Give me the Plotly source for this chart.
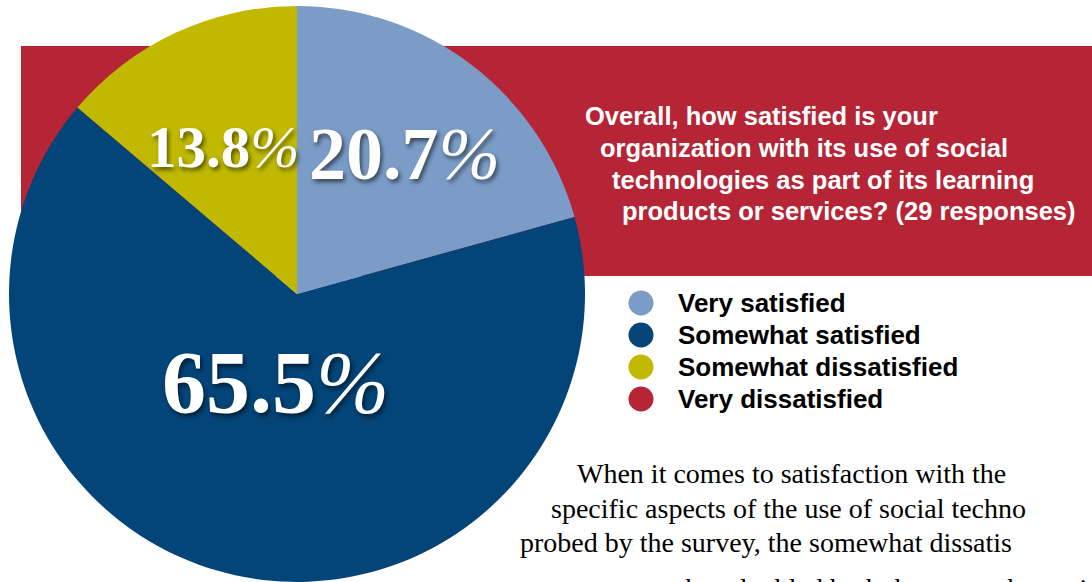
import plotly.graph_objects as go

# ---- data ----
labels = ["Very satisfied", "Somewhat satisfied", "Somewhat dissatisfied", "Very dissatisfied"]
values = [20.7, 65.5, 13.8, 0.0]
colors = ["#7a9cc6", "#034578", "#c0b900", "#b52535"]

title_lines = [
    "Overall, how satisfied is your",
    "organization with its use of social",
    "technologies as part of its learning",
    "products or services? (29 responses)",
]
body_lines = [
    "When it comes to satisfaction with the",
    "specific aspects of the use of social techno",
    "probed by the survey, the somewhat dissatis",
    "more than doubled both the somewhat satisfied",
]

W, H = 1092, 582

fig = go.Figure()

# pie
fig.add_trace(go.Pie(
    labels=labels, values=values, sort=False, direction="clockwise", rotation=0,
    marker=dict(colors=colors, line=dict(width=0)),
    textinfo="none", hoverinfo="label+percent", showlegend=False,
    domain=dict(x=[9 / W, 585 / W], y=[0, 0.99]),
))

# legend markers (custom circles)
leg_y = [303 + 32 * i for i in range(len(labels))]
fig.add_trace(go.Scatter(
    x=[641] * len(labels), y=leg_y, mode="markers",
    marker=dict(size=25, color=colors, line=dict(width=0)),
    showlegend=False, hoverinfo="skip",
))

fig.update_layout(
    width=W, height=H, margin=dict(l=0, r=0, t=0, b=0),
    paper_bgcolor="white", plot_bgcolor="rgba(0,0,0,0)",
    xaxis=dict(range=[0, W], visible=False, fixedrange=True),
    yaxis=dict(range=[H, 0], visible=False, fixedrange=True),
    showlegend=False,
)

# red background box
fig.add_shape(type="rect", x0=21, x1=W + 5, y0=46, y1=276, xref="x", yref="y",
              fillcolor="#b52535", line=dict(width=0), layer="below")

# title lines
title_x = [583, 598, 610, 620]
title_y = [116, 148, 180, 211]
for t, x, y in zip(title_lines, title_x, title_y):
    fig.add_annotation(x=x, y=y, xref="x", yref="y", text=f"<b>{t}</b>", showarrow=False,
                       xanchor="left", yanchor="middle",
                       font=dict(family="Liberation Sans, Arial", size=25.5, color="white"))

# legend text
for lab, y in zip(labels, leg_y):
    fig.add_annotation(x=676, y=y, xref="x", yref="y", text=f"<b>{lab}</b>", showarrow=False,
                       xanchor="left", yanchor="middle",
                       font=dict(family="Liberation Sans, Arial", size=26, color="black"))

# body text (last line only partly visible at the bottom edge)
body_x = [575, 549, 518, 611]
body_y = [473, 508, 542, 571]
body_anchor = ["middle", "middle", "middle", "top"]
for t, x, y, a in zip(body_lines, body_x, body_y, body_anchor):
    fig.add_annotation(x=x, y=y, xref="x", yref="y", text=t, showarrow=False,
                       xanchor="left", yanchor=a,
                       font=dict(family="Liberation Serif, Times New Roman", size=28, color="black"))

# percentage labels
pct_pos = {0: (404, 154, 74), 1: (275, 382, 88), 2: (223, 147, 59)}
for i, (x, y, s) in pct_pos.items():
    fig.add_annotation(x=x, y=y, xref="x", yref="y", text=f"<b>{values[i]}</b><i>%</i>", showarrow=False,
                       xanchor="center", yanchor="middle",
                       font=dict(family="Liberation Serif, Times New Roman", size=s, color="white",
                                 shadow="2px 3px 4px rgba(0,0,0,0.55)"))

fig.write_html("out.html", config={"displayModeBar": False},
               post_script="document.body.style.margin='0';document.body.style.overflow='hidden';")
